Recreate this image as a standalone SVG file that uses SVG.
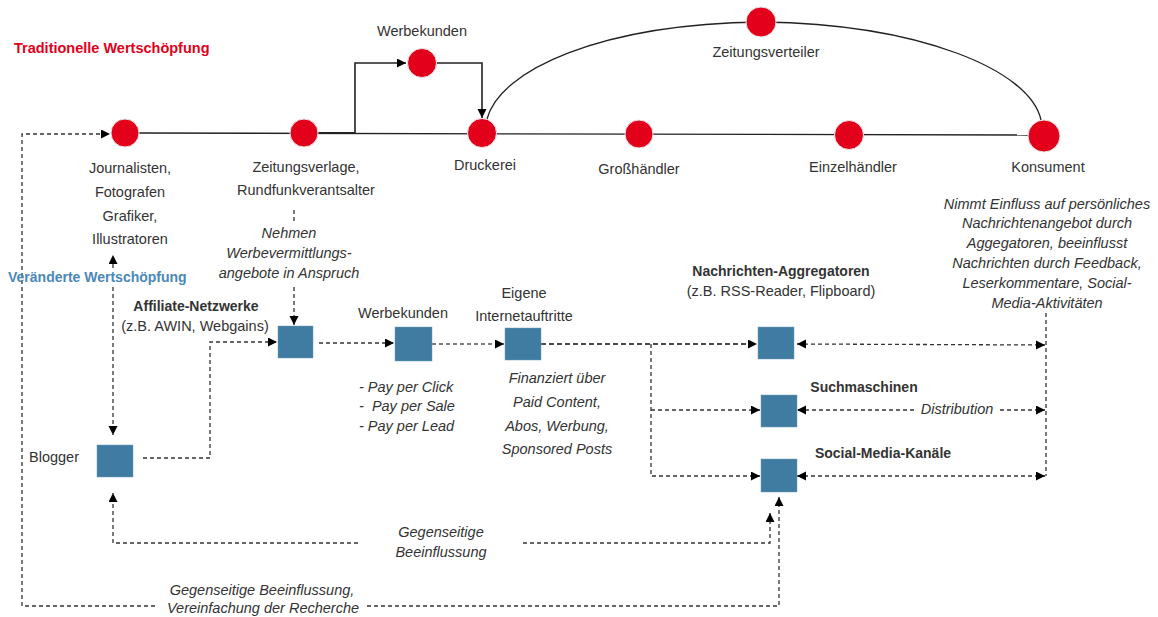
<svg xmlns="http://www.w3.org/2000/svg" width="1158" height="617" viewBox="0 0 1158 617">
<style>
text{font-family:"Liberation Sans",Arial,sans-serif;font-size:14.5px;fill:#333}
.c{text-anchor:middle}
.i{font-style:italic}
.b{font-weight:bold;font-size:14px}
.dot{fill:#e2001a;stroke:#e8e8e8;stroke-width:1}
.box{fill:#407ba2;stroke:#6f9ab8;stroke-width:0.5}
.solid{fill:none;stroke:#222;stroke-width:1.3}
.dash{fill:none;stroke:#333;stroke-width:1.3;stroke-dasharray:4 3}
.dashb{fill:none;stroke:#111;stroke-width:1.7;stroke-dasharray:5 3}
</style>
<defs>
<marker id="ah" markerUnits="userSpaceOnUse" markerWidth="10" markerHeight="10" refX="9" refY="4.5" orient="auto-start-reverse">
<path d="M0,0 L9,4.5 L0,9 z" fill="#000"/>
</marker>
</defs>
<g id="connectors">
<path class="solid" d="M139,133 L1028,135"/>
<path class="solid" style="stroke-width:2" d="M318,133 L355,133"/>
<path class="solid" style="stroke-width:1.6" d="M355,133 L355,63 L406,63" marker-end="url(#ah)"/>
<path class="solid" style="stroke-width:1.6" d="M436,63 L482,63 L482,118" marker-end="url(#ah)"/>
<path class="solid" d="M487,119 C500,70 600,24 761,22 C920,24 1030,70 1041,120"/>
<path class="dash" d="M155,606 L22,606 L22,134 L110,134" marker-end="url(#ah)"/>
<path class="dash" d="M367,606 L779,606 L779,497" marker-end="url(#ah)"/>
<path class="dash" d="M358,543 L113,543 L113,493" marker-end="url(#ah)"/>
<path class="dash" d="M523,543 L770,543 L770,513" marker-end="url(#ah)"/>
<path class="dash" d="M294,210 L294,223"/>
<path class="dash" d="M294,287 L294,325" marker-end="url(#ah)"/>
<path class="dash" d="M113,268 L113,255" marker-end="url(#ah)"/>
<path class="dash" d="M113,287 L113,435" marker-end="url(#ah)"/>
<path class="dash" d="M143,458 L210,458 L210,342 L277,342" marker-end="url(#ah)"/>
<path class="dash" d="M319,343 L394,343" marker-end="url(#ah)"/>
<path class="dash" style="stroke:#555" d="M432,344 L504,344" marker-end="url(#ah)"/>
<path class="dashb" d="M541,344 L757,344" marker-end="url(#ah)"/>
<path class="dash" d="M651,344 L651,476 L760,476" marker-end="url(#ah)"/>
<path class="dash" d="M651,410 L760,410" marker-end="url(#ah)"/>
<path class="dash" d="M797,344 L1045,345" marker-start="url(#ah)" marker-end="url(#ah)"/>
<path class="dash" d="M914,410 L797,410" marker-end="url(#ah)"/>
<path class="dash" d="M1000,410 L1045,410" marker-end="url(#ah)"/>
<path class="dash" d="M797,476 L1045,476" marker-start="url(#ah)" marker-end="url(#ah)"/>
<path class="dash" d="M1046,313 L1046,476"/>
</g>
<g id="titles">
<text x="14" y="53" style="fill:#e2001a;font-weight:bold;font-size:14.5px">Traditionelle Wertschöpfung</text>
<text x="8" y="282" style="fill:#4a88b8;font-weight:bold;font-size:14px">Veränderte Wertschöpfung</text>
</g>
<g id="n-journalisten">
<circle class="dot" cx="125" cy="133" r="14"/>
<text class="c" x="130" y="173">Journalisten,</text>
<text class="c" x="130" y="197">Fotografen</text>
<text class="c" x="130" y="221">Grafiker,</text>
<text class="c" x="130" y="244">Illustratoren</text>
</g>
<g id="n-zeitungsverlage">
<circle class="dot" cx="304" cy="133" r="14"/>
<text class="c" x="306" y="172">Zeitungsverlage,</text>
<text class="c" x="306" y="195">Rundfunkverantsalter</text>
<text class="c i" x="289" y="238">Nehmen</text>
<text class="c i" x="289" y="258">Werbevermittlungs-</text>
<text class="c i" x="289" y="278">angebote in Anspruch</text>
</g>
<g id="n-werbekunden-top">
<circle class="dot" cx="422" cy="63" r="14.5"/>
<text class="c" x="422" y="36">Werbekunden</text>
</g>
<g id="n-druckerei">
<circle class="dot" cx="482" cy="133" r="14.5"/>
<text class="c" x="485" y="170">Druckerei</text>
</g>
<g id="n-zeitungsverteiler">
<circle class="dot" cx="761" cy="22" r="15"/>
<text class="c" x="766" y="57">Zeitungsverteiler</text>
</g>
<g id="n-grosshaendler">
<circle class="dot" cx="639" cy="134" r="14"/>
<text class="c" x="639" y="174">Großhändler</text>
</g>
<g id="n-einzelhaendler">
<circle class="dot" cx="849" cy="135" r="14.5"/>
<text class="c" x="853" y="172">Einzelhändler</text>
</g>
<g id="n-konsument">
<circle class="dot" cx="1044" cy="136" r="16"/>
<text class="c" x="1048" y="172">Konsument</text>
<text class="c i" x="1047" y="209">Nimmt Einfluss auf persönliches</text>
<text class="c i" x="1047" y="228">Nachrichtenangebot durch</text>
<text class="c i" x="1047" y="248">Aggegatoren, beeinflusst</text>
<text class="c i" x="1047" y="268">Nachrichten durch Feedback,</text>
<text class="c i" x="1047" y="288">Leserkommentare, Social-</text>
<text class="c i" x="1047" y="308">Media-Aktivitäten</text>
</g>
<g id="n-blogger">
<rect class="box" x="97" y="445" width="36" height="32"/>
<text x="29" y="462">Blogger</text>
</g>
<g id="n-affiliate">
<rect class="box" x="278" y="326" width="35" height="32"/>
<text class="c b" x="196" y="311">Affiliate-Netzwerke</text>
<text class="c" x="195" y="331">(z.B. AWIN, Webgains)</text>
</g>
<g id="n-werbekunden">
<rect class="box" x="395" y="327" width="37" height="34"/>
<text class="c" x="403" y="318">Werbekunden</text>
<text class="i" x="359" y="392">- Pay per Click</text>
<text class="i" x="359" y="411" xml:space="preserve">-  Pay per Sale</text>
<text class="i" x="359" y="431">- Pay per Lead</text>
</g>
<g id="n-eigene">
<rect class="box" x="505" y="328" width="36" height="32"/>
<text class="c" x="524" y="298">Eigene</text>
<text class="c" x="524" y="321">Internetauftritte</text>
<text class="c i" x="557" y="383">Finanziert über</text>
<text class="c i" x="557" y="407">Paid Content,</text>
<text class="c i" x="557" y="431">Abos, Werbung,</text>
<text class="c i" x="557" y="454">Sponsored Posts</text>
</g>
<g id="n-aggregatoren">
<rect class="box" x="758" y="327" width="36" height="32"/>
<text class="c b" x="781" y="276">Nachrichten-Aggregatoren</text>
<text class="c" x="781" y="296">(z.B. RSS-Reader, Flipboard)</text>
</g>
<g id="n-suchmaschinen">
<rect class="box" x="761" y="395" width="36" height="32"/>
<text class="c b" x="864" y="392">Suchmaschinen</text>
</g>
<g id="n-social">
<rect class="box" x="761" y="459" width="36" height="33"/>
<text class="c b" x="883" y="458">Social-Media-Kanäle</text>
</g>
<g id="labels">
<text class="c i" x="957" y="414">Distribution</text>
<text class="c i" x="441" y="537">Gegenseitige</text>
<text class="c i" x="441" y="557">Beeinflussung</text>
<text class="c i" x="262" y="595">Gegenseitige Beeinflussung,</text>
<text class="c i" x="263" y="613">Vereinfachung der Recherche</text>
</g>
</svg>
